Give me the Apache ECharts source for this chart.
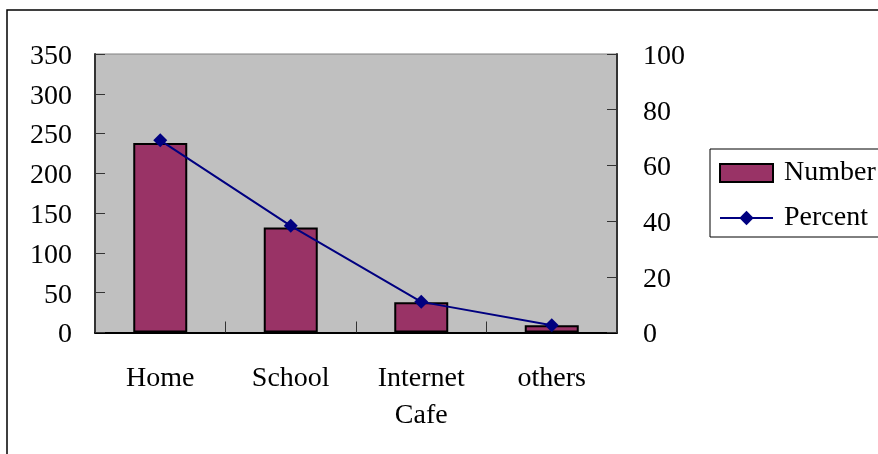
<!DOCTYPE html>
<html>
<head>
<meta charset="utf-8">
<script src="https://cdn.jsdelivr.net/npm/echarts@6/dist/echarts.min.js"></script>
<style>
  html, body { margin: 0; padding: 0; background: #fff; }
  #chart { width: 878px; height: 454px; }
</style>
</head>
<body>
<div id="chart"></div>
<script>
// Place where respondents access the internet
const categories = ['Home', 'School', 'Internet\nCafe', 'others'];
const numberValues = [238, 132, 38, 9];
const percentValues = [69.0, 38.3, 11.0, 2.6];
const leftTicks = { min: 0, max: 350, interval: 50 };
const rightTicks = { min: 0, max: 100, interval: 20 };

const FONT = '"Liberation Serif", "Times New Roman", serif';

const chart = echarts.init(document.getElementById('chart'), null, { renderer: 'canvas' });

// value-axis labels sit slightly below their tick marks
const valueLabel = (margin) => ({
  margin, fontFamily: FONT, fontSize: 28, color: '#000',
  verticalAlign: 'top', lineHeight: 5
});

chart.setOption({
  backgroundColor: '#ffffff',
  animation: false,
  textStyle: { fontFamily: FONT, color: '#000' },
  graphic: [{
    type: 'rect',
    shape: { x: 7, y: 10, width: 1000, height: 1000 },
    style: { fill: null, stroke: '#000', lineWidth: 1.5 },
    silent: true,
    z: -1
  }],
  grid: {
    left: 95, right: 261, top: 54, bottom: 121.5,
    show: true,
    backgroundColor: '#C0C0C0',
    borderColor: '#808080',
    borderWidth: 1
  },
  legend: {
    orient: 'vertical',
    left: 710,
    top: 149,
    padding: [10, 20, 5, 9],
    borderColor: '#000',
    borderWidth: 1,
    itemWidth: 53,
    itemHeight: 18,
    itemGap: 17,
    textStyle: { fontFamily: FONT, fontSize: 28, color: '#000', lineHeight: 28, padding: [0, 0, 0, 6] },
    data: [
      { name: 'Number', icon: 'rect', itemStyle: { color: '#993366', borderColor: '#000', borderWidth: 2 } },
      { name: 'Percent' }
    ]
  },
  xAxis: {
    type: 'category',
    data: categories,
    axisLine: { show: true, lineStyle: { color: '#000', width: 2 } },
    axisTick: { show: true, inside: true, length: 11, lineStyle: { color: '#333', width: 1 } },
    axisLabel: {
      interval: 0, margin: 28, fontFamily: FONT, fontSize: 28, color: '#000', lineHeight: 37
    },
    splitLine: { show: false }
  },
  yAxis: [{
    type: 'value',
    min: leftTicks.min, max: leftTicks.max, interval: leftTicks.interval,
    position: 'left',
    axisLine: { show: true, lineStyle: { color: '#333', width: 2 } },
    axisTick: { show: true, inside: true, length: 10, lineStyle: { color: '#333', width: 1 } },
    axisLabel: valueLabel(23),
    splitLine: { show: false }
  }, {
    type: 'value',
    min: rightTicks.min, max: rightTicks.max, interval: rightTicks.interval,
    position: 'right',
    axisLine: { show: true, lineStyle: { color: '#333', width: 2 } },
    axisTick: { show: true, inside: true, length: 10, lineStyle: { color: '#333', width: 1 } },
    axisLabel: valueLabel(26),
    splitLine: { show: false }
  }],
  series: [{
    name: 'Number',
    type: 'bar',
    yAxisIndex: 0,
    data: numberValues,
    barWidth: 54,
    itemStyle: { color: '#993366', borderColor: '#000', borderWidth: 2 }
  }, {
    name: 'Percent',
    type: 'line',
    yAxisIndex: 1,
    data: percentValues,
    symbol: 'diamond',
    symbolSize: 14,
    showAllSymbol: true,
    lineStyle: { color: '#000080', width: 2 },
    itemStyle: { color: '#000080' },
    z: 3
  }]
});
</script>
</body>
</html>
